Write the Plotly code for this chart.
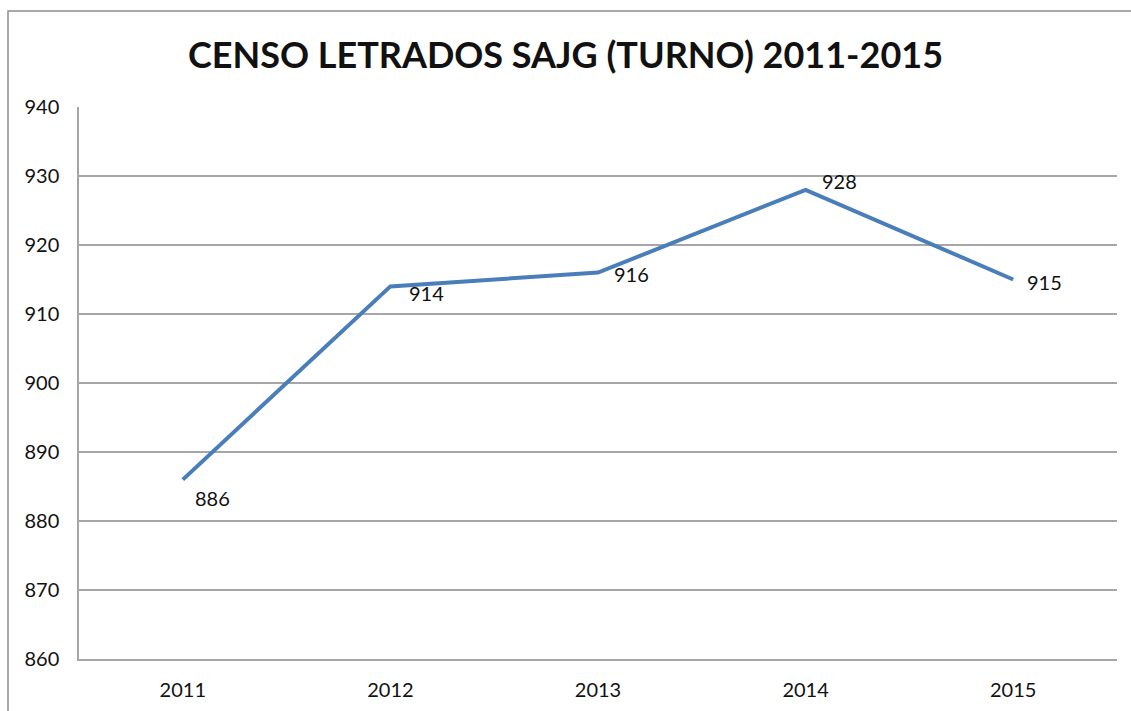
import plotly.graph_objects as go

years = ["2011", "2012", "2013", "2014", "2015"]
values = [886, 914, 916, 928, 915]
y_ticks = [860, 870, 880, 890, 900, 910, 920, 930, 940]

L, R, T, B = 79, 14, 107, 52
W, H = 1131, 711
pw = W - L - R
ph = H - T - B

fig = go.Figure()
fig.add_trace(go.Scatter(
    x=years, y=values, mode="lines",
    line=dict(color="#4A7EBB", width=4),
    hoverinfo="x+y", showlegend=False,
))

# label offsets (pixels) per point
offsets = [(30, -18), (36, -7), (33, -1), (34, 9), (31, -2)]
for i, (v, (dx, dy)) in enumerate(zip(values, offsets)):
    fig.add_annotation(x=i, y=v, text=str(v), showarrow=False,
                       xshift=dx, yshift=dy,
                       font=dict(family="Lato, DejaVu Sans", size=20, color="#111111"))

# outer chart border (partially cut off like the reference)
fig.add_shape(type="rect", xref="paper", yref="paper",
              x0=(8 - L) / pw, x1=1.2, y0=-0.3, y1=(H - B - 11) / ph,
              line=dict(color="#8c8c8c", width=1.5), layer="below")

fig.update_layout(
    width=W, height=H,
    margin=dict(l=L, r=R, t=T, b=B),
    paper_bgcolor="white", plot_bgcolor="white",
    title=dict(text="<b>CENSO LETRADOS SAJG (TURNO) 2011-2015</b>",
               x=0.5, xref="container", xanchor="center",
               y=1 - 55 / H, yanchor="middle",
               font=dict(family="Lato, DejaVu Sans", size=36, color="#111111")),
    font=dict(family="Lato, DejaVu Sans", size=20, color="#111111"),
)
fig.update_xaxes(type="category", range=[-0.5, 4.5], showgrid=False,
                 showline=True, linecolor="#a6a6a6", linewidth=1.5,
                 zeroline=False, ticks="", automargin=False,
                 ticklabelstandoff=12, tickfont=dict(size=20))
fig.update_yaxes(range=[860, 940], tickvals=y_ticks, showgrid=True,
                 gridcolor="#a6a6a6", gridwidth=1.5,
                 showline=True, linecolor="#a6a6a6", linewidth=1.5,
                 zeroline=False, ticks="", ticklabelstandoff=14, automargin=False,
                 tickfont=dict(size=20))

fig.write_html("out.html", config={"displayModeBar": False},
               post_script="document.body.style.margin='0';document.body.style.padding='0';")
